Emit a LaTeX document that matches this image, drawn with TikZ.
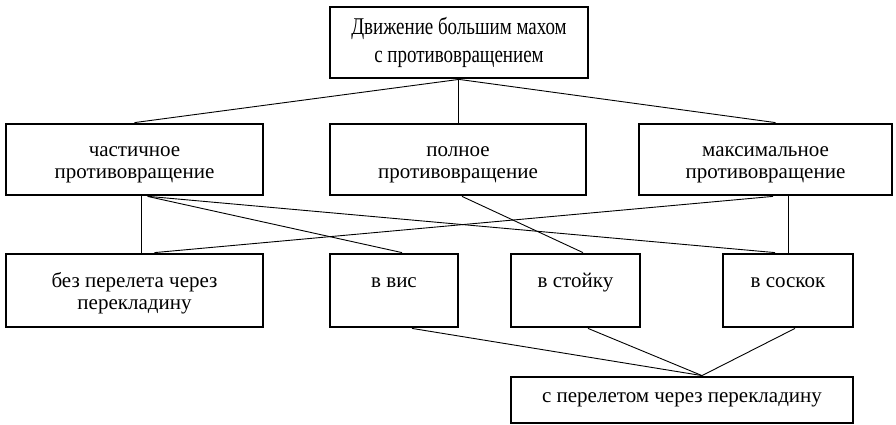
\documentclass[tikz,border=0pt]{standalone}
\usepackage{fontspec}
\setmainfont{Liberation Serif}
\newfontfamily\condfont{Liberation Serif}[FakeStretch=0.79]
\newcommand\tstr{\rule{0pt}{22pt}}
\newcommand\bstr{\rule[-6pt]{0pt}{6pt}}
\begin{document}
\begin{tikzpicture}[x=1pt,y=-1pt,
  box/.style={draw,line width=2.8pt,inner sep=0pt,align=center,font=\fontsize{21}{21.6}\selectfont},
  conn/.style={line width=0.9pt}]
\useasboundingbox[fill=white] (0,0) rectangle (896,425);
\node[box,minimum width=258,minimum height=71,font=\condfont\fontsize{24}{28}\selectfont] (top) at (459,42.5) {Движение большим махом\\с противовращением};
\node[box,minimum width=257,minimum height=71] (part) at (134.5,159.5) {\tstr частичное\\противовращение\bstr};
\node[box,minimum width=256,minimum height=71] (full) at (458,159.5) {\tstr полное\\противовращение\bstr};
\node[box,minimum width=253,minimum height=71] (max) at (765.5,159.5) {\tstr максимальное\\противовращение\bstr};
\node[box,minimum width=257,minimum height=73] (bez) at (134.5,290.5) {\tstr без перелета через\\перекладину\bstr};
\node[box,minimum width=128,minimum height=73] (vis) at (394,290.5) {\tstr в вис\\\bstr};
\node[box,minimum width=129,minimum height=73] (stk) at (575.5,290.5) {\tstr в стойку\\\bstr};
\node[box,minimum width=130,minimum height=73] (sos) at (788,290.5) {\tstr в соскок\\\bstr};
\node[box,minimum width=342,minimum height=46] (bot) at (682,400) {с перелетом через перекладину};
\coordinate (bt) at ([xshift=20]bot.north);
\draw[conn] (top.south) -- (part.north);
\draw[conn] (full.north) -- (full.north |- top.south);
\draw[conn] (top.south) -- ([xshift=10]max.north);
\draw[conn] ([xshift=6.5]part.south) -- ([xshift=6.5]part.south |- bez.north);
\draw[conn] ([xshift=13]part.south) -- ([xshift=8]vis.north);
\draw[conn] ([xshift=14]part.south) -- ([xshift=-13]sos.north);
\draw[conn] ([xshift=7.5]max.south) -- ([xshift=20]bez.north);
\draw[conn] (sos.north) -- (sos.north |- max.south);
\draw[conn] ([xshift=4]full.south) -- ([xshift=7.5]stk.north);
\draw[conn] ([xshift=18]vis.south) -- (bt);
\draw[conn] ([xshift=12.5]stk.south) -- (bt);
\draw[conn] ([xshift=7]sos.south) -- (bt);
\end{tikzpicture}
\end{document}
